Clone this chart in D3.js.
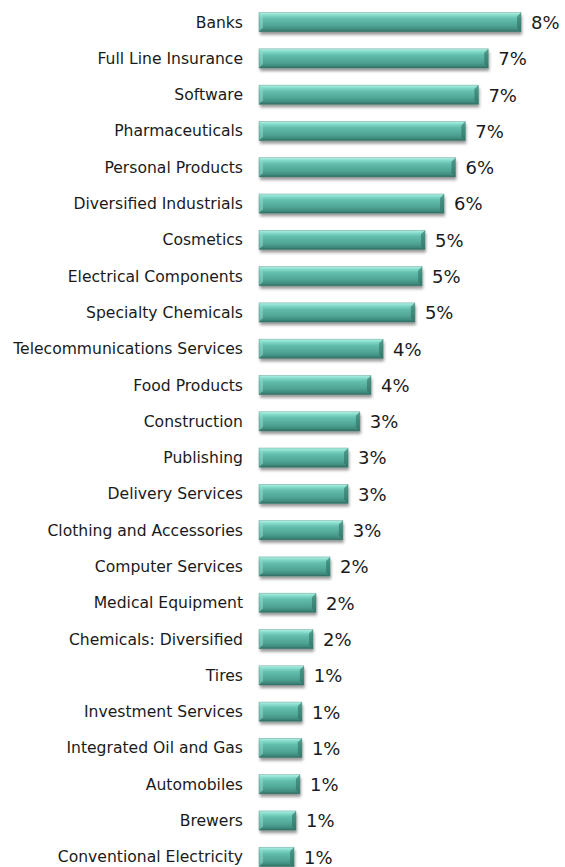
<!DOCTYPE html>
<html>
<head>
<meta charset="utf-8">
<script src="https://cdn.jsdelivr.net/npm/d3@7"></script>
<style>
  html, body { margin: 0; padding: 0; background: #fff; }
  svg { display: block; }
</style>
</head>
<body>
<script>
const sectors = [
  "Banks", "Full Line Insurance", "Software", "Pharmaceuticals", "Personal Products",
  "Diversified Industrials", "Cosmetics", "Electrical Components", "Specialty Chemicals",
  "Telecommunications Services", "Food Products", "Construction", "Publishing",
  "Delivery Services", "Clothing and Accessories", "Computer Services", "Medical Equipment",
  "Chemicals: Diversified", "Tires", "Investment Services", "Integrated Oil and Gas",
  "Automobiles", "Brewers", "Conventional Electricity"
];
const weights = [
  8.0, 7.0, 6.7, 6.3, 6.0, 5.65, 5.07, 4.98, 4.76, 3.79, 3.42, 3.08, 2.72,
  2.72, 2.56, 2.17, 1.74, 1.65, 1.37, 1.31, 1.31, 1.25, 1.13, 1.07
];
const valueLabels = [
  "8%", "7%", "7%", "7%", "6%", "6%", "5%", "5%", "5%", "4%", "4%", "3%", "3%",
  "3%", "3%", "2%", "2%", "2%", "1%", "1%", "1%", "1%", "1%", "1%"
];

const width = 565, height = 867;

const x = d3.scaleLinear().domain([0, 8]).range([259, 521]);
const y = d3.scaleBand().domain(sectors).range([4, 875]).paddingInner(0.47).paddingOuter(0.235);

const svg = d3.select("body").append("svg")
  .attr("width", width)
  .attr("height", height);

const defs = svg.append("defs");

const grad = defs.append("linearGradient")
  .attr("id", "barFill")
  .attr("x1", 0).attr("y1", 0).attr("x2", 0).attr("y2", 1);
[
  [0, "#b2f2e6"], [0.16, "#80d8c7"], [0.32, "#63bead"],
  [0.7, "#4ea393"], [0.88, "#3f8c7e"], [1, "#2f6a5f"]
].forEach(([o, c]) => grad.append("stop").attr("offset", o).attr("stop-color", c));

const shadow = defs.append("filter")
  .attr("id", "shadow")
  .attr("x", "-10%").attr("y", "-30%").attr("width", "130%").attr("height", "190%");
shadow.append("feDropShadow")
  .attr("dx", 1).attr("dy", 3).attr("stdDeviation", 1.8)
  .attr("flood-color", "#000").attr("flood-opacity", 0.4);

const rows = svg.append("g").selectAll("g")
  .data(sectors)
  .join("g");

const bev = 4;

rows.append("rect")
  .attr("x", x(0))
  .attr("y", d => y(d))
  .attr("width", (d, i) => x(weights[i]) - x(0))
  .attr("height", y.bandwidth())
  .attr("fill", "url(#barFill)")
  .attr("filter", "url(#shadow)");

// left bevel (lighter)
rows.append("path")
  .attr("d", (d, i) => {
    const x0 = x(0), y0 = y(d), h = y.bandwidth();
    return `M${x0},${y0}L${x0 + bev},${y0 + bev}L${x0 + bev},${y0 + h - bev}L${x0},${y0 + h}Z`;
  })
  .attr("fill", "#8fdccc")
  .attr("opacity", 0.55);

// right bevel (darker)
rows.append("path")
  .attr("d", (d, i) => {
    const x1 = x(weights[i]), y0 = y(d), h = y.bandwidth();
    return `M${x1},${y0}L${x1 - bev},${y0 + bev}L${x1 - bev},${y0 + h - bev}L${x1},${y0 + h}Z`;
  })
  .attr("fill", "#2f6f63")
  .attr("opacity", 0.6);

// bar outline
rows.append("rect")
  .attr("x", x(0))
  .attr("y", d => y(d))
  .attr("width", (d, i) => x(weights[i]) - x(0))
  .attr("height", y.bandwidth())
  .attr("fill", "none")
  .attr("stroke", "#3c8477")
  .attr("stroke-opacity", 0.6)
  .attr("stroke-width", 0.6);

rows.append("text")
  .attr("x", 243)
  .attr("y", d => y(d) + y.bandwidth() / 2)
  .attr("dy", "0.35em")
  .attr("text-anchor", "end")
  .attr("font-family", "'DejaVu Sans', Verdana, sans-serif")
  .attr("font-size", 15.6)
  .attr("fill", "#1a1a1a")
  .text(d => d);

rows.append("text")
  .attr("x", (d, i) => x(weights[i]) + 10)
  .attr("y", d => y(d) + y.bandwidth() / 2)
  .attr("dy", "0.38em")
  .attr("font-family", "'DejaVu Sans', Verdana, sans-serif")
  .attr("font-size", 18)
  .attr("fill", "#1a1a1a")
  .text((d, i) => valueLabels[i]);
</script>
</body>
</html>
